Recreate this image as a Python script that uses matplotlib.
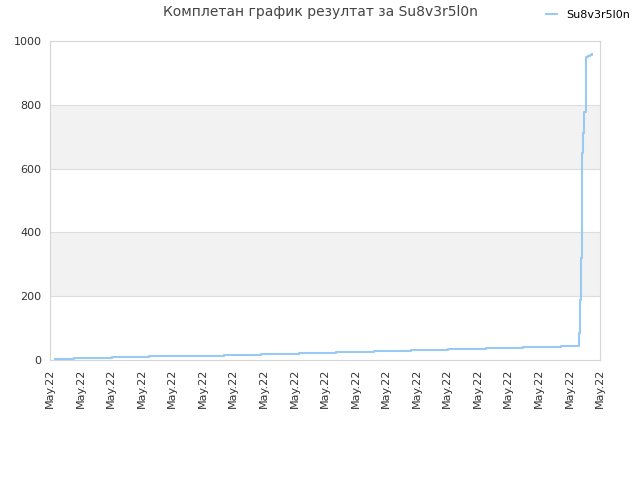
import numpy as np
import matplotlib
matplotlib.use("Agg")
import matplotlib.pyplot as plt

# time axis in "tick units" (18 intervals, all labelled May.22)
times = [0.16, 0.79, 2.03, 3.24, 4.45, 5.69, 6.90, 8.15, 9.36, 10.60,
         11.81, 13.02, 14.27, 15.48, 16.72, 17.31, 17.34, 17.37, 17.40,
         17.42, 17.45, 17.48, 17.53, 17.60, 17.66, 17.73]
scores = [2, 5, 8, 11, 14, 17, 20, 23, 26, 29,
          32, 35, 38, 41, 45, 85, 188, 320, 473,
          648, 711, 777, 950, 952, 955, 958]
tick_labels = ["May.22"] * 19
player = "Su8v3r5l0n"
title = "Комплетан график резултат за Su8v3r5l0n"

fig = plt.figure(figsize=(6.4, 4.8), dpi=100)
ax = fig.add_axes([50 / 640, 1 - 360 / 480, 550 / 640, 319 / 480])

# alternating bands
for lo, hi in [(200, 400), (600, 800)]:
    ax.axhspan(lo, hi, color="#f2f2f2", zorder=0, lw=0)
for y in range(200, 1000, 200):
    ax.axhline(y, color="#dcdcdc", lw=0.8, zorder=1)

ax.plot(times, scores, drawstyle="steps-post", color="#99c9f5", lw=1.5,
        zorder=3, label=player)

ax.set_xlim(0, 18)
ax.set_ylim(0, 1000)
ax.set_yticks(range(0, 1001, 200))
ax.set_xticks(range(19))
ax.set_xticklabels(tick_labels, rotation=90)
ax.tick_params(axis="both", length=0, labelsize=8, colors="#333333", pad=6)
for s in ax.spines.values():
    s.set_color("#d6d6d6")

fig.text(0.5, 0.975, title, ha="center", va="center", fontsize=10,
         color="#444444")
fig.legend(loc="upper right", bbox_to_anchor=(1.0, 1.0), frameon=False,
           fontsize=8, handlelength=1.0, handletextpad=0.8)

fig.savefig("out.png", dpi=100)
